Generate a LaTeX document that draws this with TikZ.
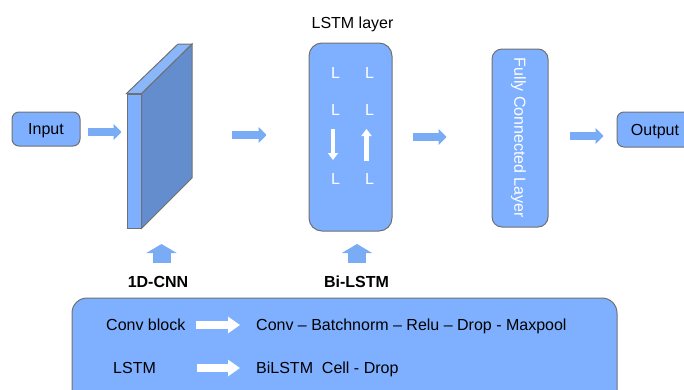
\documentclass[tikz,border=0pt]{standalone}
\usepackage{fontspec}
\setmainfont{Liberation Sans}
\usetikzlibrary{arrows.meta,calc}
\definecolor{fillblue}{RGB}{127,176,255}
\definecolor{darkface}{RGB}{99,141,204}
\definecolor{topface}{RGB}{138,182,250}
\definecolor{arrowblue}{RGB}{122,172,245}
\definecolor{edgegray}{RGB}{112,112,112}
\tikzset{
  txt/.style={font=\fontsize{16}{19}\selectfont, text height=11.5pt, text depth=0pt, inner sep=0pt},
  box/.style={txt, draw=edgegray, line width=1pt, fill=fillblue},
  barrow/.style={draw=arrowblue, line width=8pt, -{Triangle[length=8pt,width=16pt]}},
  uparrow/.style={draw=arrowblue, line width=18pt, -{Triangle[length=9pt,width=30pt]}},
  warrow/.style={draw=white, line width=8pt, -{Triangle[length=12pt,width=16pt]}},
  thinarrow/.style={draw=white, line width=4.5pt, -{Triangle[length=7pt,width=10pt]}},
  lchar/.style={txt, text=white},
}
\begin{document}
\begin{tikzpicture}[x=1pt,y=-1pt]
\useasboundingbox (0,0) rectangle (684,389);
\clip (0,0) rectangle (684,389);

% input
\node[box, rounded corners=7pt, minimum width=68pt, minimum height=34pt] (in) at (46,129) {Input};

% CNN block
\node[draw=edgegray, line width=1pt, fill=fillblue, minimum width=14pt, minimum height=134pt, inner sep=0pt] (cnnf) at (134,161) {};
\draw[draw=edgegray, line width=1pt, fill=darkface] (cnnf.north east) -- (192,44) -- (192,178) -- (cnnf.south east) -- cycle;
\draw[draw=edgegray, line width=1pt, fill=topface] (cnnf.north west) -- (178,44) -- (192,44) -- (cnnf.north east) -- cycle;
\coordinate (cnnr) at (192,135);

% LSTM block
\node[txt] (lstmtitle) at (352.5,23) {LSTM layer};
\node[box, rounded corners=13pt, minimum width=83pt, minimum height=188pt] (lstm) at (350.5,137) {};
\node[lchar] (l11) at (335.5,72.5) {L};
\node[lchar] (l12) at (369.5,72.5) {L};
\node[lchar] (l21) at (335.5,110) {L};
\node[lchar] (l22) at (369.5,110) {L};
\node[lchar] (l31) at (335.5,179) {L};
\node[lchar] (l32) at (369.5,179) {L};
\draw[thinarrow] ($(l21)+(-2.5pt,-19pt)$) -- ($(l31)+(-2.5pt,19pt)$);
\draw[thinarrow] ($(l32)+(-3pt,18pt)$) -- ($(l22)+(-3pt,-19pt)$);

% FC
\node[box, rounded corners=10pt, minimum width=56pt, minimum height=178pt] (fc) at (520,138) {};
\node[txt, text=white, rotate=-90] (fctext) at (fc.center) {Fully Connected Layer};

% output
\node[box, rounded corners=7pt, minimum width=76pt, minimum height=35pt] (out) at (655,129.5) {Output};

% main arrows
\draw[barrow] ($(in.east)+(7pt,-3pt)$) -- ($(in.east -| cnnf.west)+(-5pt,-3pt)$);
\draw[barrow] ($(cnnr)+(40pt,0pt)$) -- ($(cnnr -| lstm.west)+(-42pt,0pt)$);
\draw[barrow] ($(lstm.east)+(20pt,0pt)$) -- ($(lstm.east -| fc.west)+(-45pt,0pt)$);
\draw[barrow] ($(fc.east)+(21pt,2pt)$) -- ($(fc.east -| out.west)+(-13pt,2pt)$);

% labels with up arrows
\node[txt, font=\fontsize{16}{19}\selectfont\bfseries] (cnnlbl) at (158,282) {1D-CNN};
\node[txt, font=\fontsize{16}{19}\selectfont\bfseries] (bilbl) at (356.5,282) {Bi-LSTM};
\draw[uparrow] ($(cnnlbl)+(3.5pt,19pt)$) -- ($(cnnlbl)+(3.5pt,38pt)$);
\draw[uparrow] ($(bilbl)+(0.5pt,19pt)$) -- ($(bilbl)+(0.5pt,38pt)$);

% legend box
\node[box, rounded corners=15pt, minimum width=545pt, minimum height=120pt] (legend) at (344.5,358) {};
\node[txt, anchor=west] (conv) at (106,325) {Conv block};
\node[txt, anchor=west] (convseq) at (256,325) {Conv -- Batchnorm -- Relu -- Drop - Maxpool};
\node[txt, anchor=west] (lstmkey) at (113,368) {LSTM};
\node[txt, anchor=west] (lstmseq) at (256,368) {BiLSTM\ \ Cell - Drop};
\draw[warrow] ($(conv.east)+(10pt,0pt)$) -- ($(convseq.west)+(-16pt,0pt)$);
\draw[warrow] ($(lstmkey.east)+(41pt,0pt)$) -- ($(lstmseq.west)+(-16pt,0pt)$);
\end{tikzpicture}
\end{document}
